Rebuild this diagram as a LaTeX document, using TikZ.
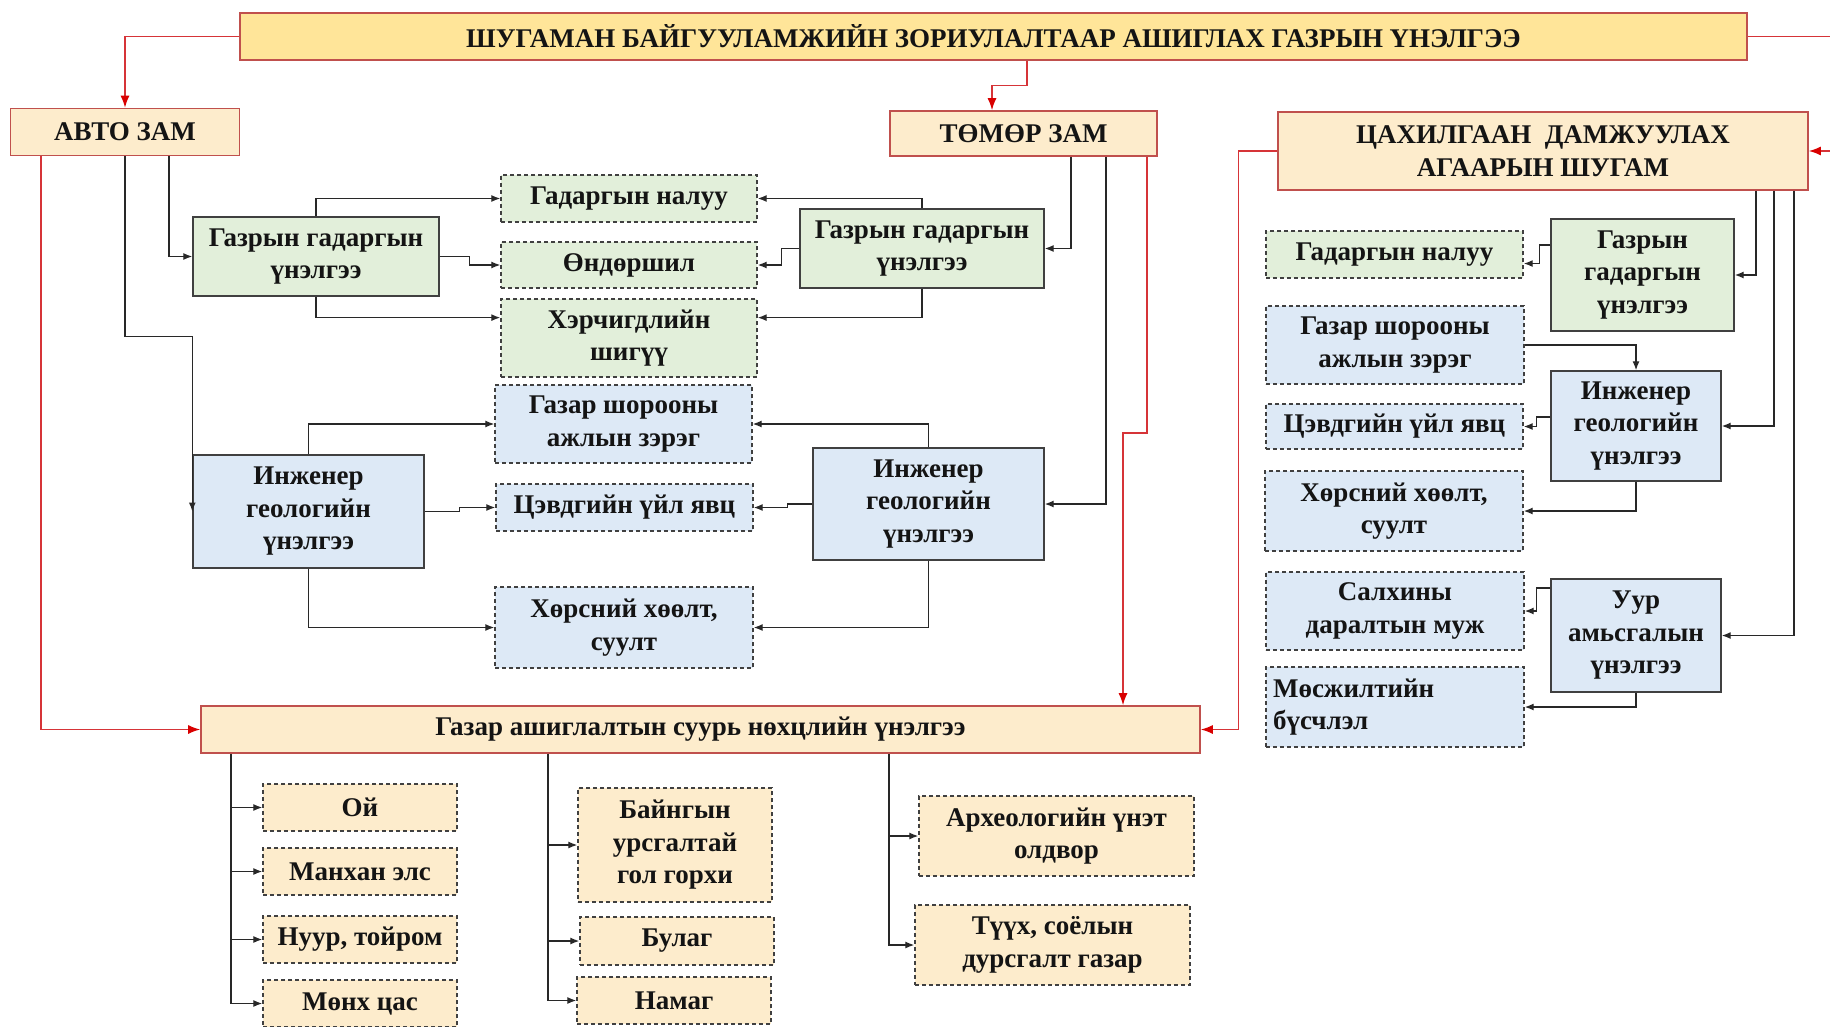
\documentclass[tikz,border=0pt]{standalone}
\usepackage{fontspec}
\setmainfont{Liberation Serif}
\usepackage{tikz}
\usetikzlibrary{arrows.meta,positioning,calc}
\definecolor{ttlfill}{RGB}{255,229,153}
\definecolor{peach}{RGB}{253,236,204}
\definecolor{bred}{RGB}{192,80,77}
\definecolor{rline}{RGB}{214,52,56}
\definecolor{lgreen}{RGB}{226,239,218}
\definecolor{lblue}{RGB}{221,233,246}
\definecolor{bgray}{RGB}{64,64,64}
\definecolor{lnk}{RGB}{40,40,40}

\begin{document}
\begin{tikzpicture}[
  x=1pt, y=-1pt,
  font=\fontsize{27}{32.5}\selectfont\bfseries,
  every node/.style={inner sep=2pt, align=center, text=black!92},
  mainbox/.style={rectangle, draw=bred, line width=1.6pt, fill=ttlfill},
  typebox/.style={rectangle, draw=bred, line width=1.6pt, fill=peach},
  greenbox/.style={rectangle, draw=bgray, line width=1.4pt, fill=lgreen},
  bluebox/.style={rectangle, draw=bgray, line width=1.4pt, fill=lblue},
  greensub/.style={greenbox, dash pattern=on 4pt off 3pt},
  bluesub/.style={bluebox, dash pattern=on 4pt off 3pt},
  peachsub/.style={rectangle, draw=bgray, line width=1.4pt, fill=peach, dash pattern=on 4pt off 3pt},
  link/.style={-{Latex[length=9pt,width=7pt]}, line width=1.3pt, draw=lnk},
  redlink/.style={-{Latex[length=12pt,width=9pt,color=red!85!black]}, line width=1.4pt, draw=rline},
]
  \useasboundingbox[fill=white] (0,0) rectangle (1830,1027);

  % Top level
  \node[mainbox, minimum width=1507pt, minimum height=47pt] (title) at (993.5,36.5) {ШУГАМАН БАЙГУУЛАМЖИЙН ЗОРИУЛАЛТААР АШИГЛАХ ГАЗРЫН ҮНЭЛГЭЭ};
  \node[typebox, minimum width=229pt, minimum height=47pt] (avto) at (125,132) {АВТО ЗАМ};
  \node[typebox, minimum width=267pt, minimum height=45pt] (tomor) at (1023.5,133.5) {ТӨМӨР ЗАМ};
  \node[typebox, minimum width=530pt, minimum height=78pt] (tsakh) at (1543,151) {ЦАХИЛГААН\ \ ДАМЖУУЛАХ\\АГААРЫН ШУГАМ};
  \node[typebox, minimum width=999pt, minimum height=47pt] (base) at (700.5,729.5) {Газар ашиглалтын суурь нөхцлийн үнэлгээ};

  % Road and railway: surface
  \node[greenbox, minimum width=246pt, minimum height=79pt] (gsA) at (316,256.5) {Газрын гадаргын\\үнэлгээ};
  \node[greenbox, minimum width=244pt, minimum height=79pt] (gsB) at (922,248.5) {Газрын гадаргын\\үнэлгээ};
  \node[greensub, minimum width=256pt, minimum height=47pt] (naluuA) at (629,198.5) {Гадаргын налуу};
  \node[greensub, minimum width=256pt, minimum height=46pt] (unduA) at (629,265) {Өндөршил};
  \node[greensub, minimum width=256pt, minimum height=78pt] (hercA) at (629,338) {Хэрчигдлийн\\шигүү};

  % Road and railway: geology
  \node[bluebox, minimum width=231pt, minimum height=113pt] (geoA) at (308.5,511.5) {Инженер\\геологийн\\үнэлгээ};
  \node[bluebox, minimum width=231pt, minimum height=112pt] (geoB) at (928.5,504) {Инженер\\геологийн\\үнэлгээ};
  \node[bluesub, minimum width=257pt, minimum height=78pt] (shorA) at (623.5,424) {Газар шорооны\\ажлын зэрэг};
  \node[bluesub, minimum width=257pt, minimum height=47pt] (tsevA) at (624.5,507.5) {Цэвдгийн үйл явц};
  \node[bluesub, minimum width=258pt, minimum height=81pt] (horsA) at (624,627.5) {Хөрсний хөөлт,\\суулт};

  % Power line
  \node[greenbox, minimum width=183pt, minimum height=112pt] (gsC) at (1642.5,275) {Газрын\\гадаргын\\үнэлгээ};
  \node[bluebox, minimum width=170pt, minimum height=110pt] (geoC) at (1636,426) {Инженер\\геологийн\\үнэлгээ};
  \node[bluebox, minimum width=170pt, minimum height=113pt] (climC) at (1636,635.5) {Уур\\амьсгалын\\үнэлгээ};
  \node[greensub, minimum width=257pt, minimum height=47pt] (naluuC) at (1394.5,254.5) {Гадаргын налуу};
  \node[bluesub, minimum width=258pt, minimum height=78pt] (shorC) at (1395,345) {Газар шорооны\\ажлын зэрэг};
  \node[bluesub, minimum width=257pt, minimum height=45pt] (tsevC) at (1394.5,426.5) {Цэвдгийн үйл явц};
  \node[bluesub, minimum width=258pt, minimum height=80pt] (horsC) at (1394,511) {Хөрсний хөөлт,\\суулт};
  \node[bluesub, minimum width=258pt, minimum height=78pt] (salkhC) at (1395,611) {Салхины\\даралтын муж};
  \node[bluesub, minimum width=258pt, minimum height=80pt, align=left, text width=244pt] (musC) at (1395,707) {Мөсжилтийн\\бүсчлэл};

  % Land use base
  \node[peachsub, minimum width=194pt, minimum height=47pt] (oi) at (360,807.5) {Ой};
  \node[peachsub, minimum width=194pt, minimum height=47pt] (mankh) at (360,871.5) {Манхан элс};
  \node[peachsub, minimum width=194pt, minimum height=47pt] (nuur) at (360,939.5) {Нуур, тойром};
  \node[peachsub, minimum width=194pt, minimum height=47pt] (monkh) at (360,1003.5) {Мөнх цас};
  \node[peachsub, minimum width=194pt, minimum height=114pt] (bain) at (675,845) {Байнгын\\урсгалтай\\гол горхи};
  \node[peachsub, minimum width=194pt, minimum height=48pt] (bulag) at (677,941) {Булаг};
  \node[peachsub, minimum width=194pt, minimum height=47pt] (namag) at (674,1000.5) {Намаг};
  \node[peachsub, minimum width=275pt, minimum height=80pt] (arkh) at (1056.5,836) {Археологийн үнэт\\олдвор};
  \node[peachsub, minimum width=275pt, minimum height=80pt] (tuukh) at (1052.5,945) {Түүх, соёлын\\дурсгалт газар};

  % Red links
  \draw[redlink] (title.west) -| (avto.north);
  \draw[redlink] ([xshift=33.5pt]title.south) -- ++(0,25) -| ([xshift=-31.5pt]tomor.north);
  \coordinate (offr) at (1870,36.5);
  \draw[redlink] (title.east) -- (offr) |- (tsakh.east);
  \draw[redlink] ([xshift=-84pt]avto.south) |- (base.west);
  \draw[redlink] ([xshift=123.5pt]tomor.south) -- ++(0,276) -| ([xshift=422.5pt]base.north);
  \draw[redlink] (tsakh.west) -- ++(-39,0) |- (base.east);

  % Road links
  \draw[link] ([xshift=44pt]avto.south) |- (gsA.west);
  \draw[link] (avto.south) |- ($(geoA.north west)+(0,-118)$) -- (geoA.west);
  \draw[link] (gsA.north) |- (naluuA.west);
  \draw[link] (gsA.east) -- ++(30,0) |- (unduA.west);
  \draw[link] (gsA.south) |- (hercA.171);
  \draw[link] (geoA.north) |- (shorA.west);
  \draw[link] (geoA.east) -- ++(35,0) |- (tsevA.west);
  \draw[link] (geoA.south) |- (horsA.west);

  % Railway links
  \draw[link] ([xshift=47.5pt]tomor.south) |- (gsB.east);
  \draw[link] ([xshift=82.5pt]tomor.south) |- (geoB.east);
  \draw[link] (gsB.north) |- (naluuA.east);
  \draw[link] (gsB.west) -- ++(-18,0) |- (unduA.east);
  \draw[link] (gsB.south) |- (hercA.9);
  \draw[link] (geoB.north) |- (shorA.east);
  \draw[link] (geoB.west) -- ++(-25,0) |- (tsevA.east);
  \draw[link] (geoB.south) |- (horsA.east);

  % Power line links
  \draw[link] ([xshift=213pt]tsakh.south) |- (gsC.east);
  \draw[link] ([xshift=231pt]tsakh.south) |- (geoC.east);
  \draw[link] ([xshift=251pt]tsakh.south) |- (climC.east);
  \draw[link] (gsC.162) -- ++(-11,0) |- (naluuC.-4);
  \draw[link] (shorC.east) -| (geoC.north);
  \draw[link] (geoC.174) -- ++(-14,0) |- (tsevC.east);
  \draw[link] (geoC.south) |- (horsC.east);
  \draw[link] (climC.151) -- ++(-14,0) |- (salkhC.east);
  \draw[link] (climC.south) |- (musC.east);

  % Base links
  \coordinate (b1) at ([xshift=-469.5pt]base.south);
  \coordinate (b2) at ([xshift=-152.5pt]base.south);
  \coordinate (b3) at ([xshift=188.5pt]base.south);
  \draw[link] (b1) |- (monkh.west);
  \draw[link] (b1 |- oi.west) -- (oi.west);
  \draw[link] (b1 |- mankh.west) -- (mankh.west);
  \draw[link] (b1 |- nuur.west) -- (nuur.west);
  \draw[link] (b2) |- (namag.west);
  \draw[link] (b2 |- bain.west) -- (bain.west);
  \draw[link] (b2 |- bulag.west) -- (bulag.west);
  \draw[link] (b3) |- (tuukh.west);
  \draw[link] (b3 |- arkh.west) -- (arkh.west);
\end{tikzpicture}
\end{document}
